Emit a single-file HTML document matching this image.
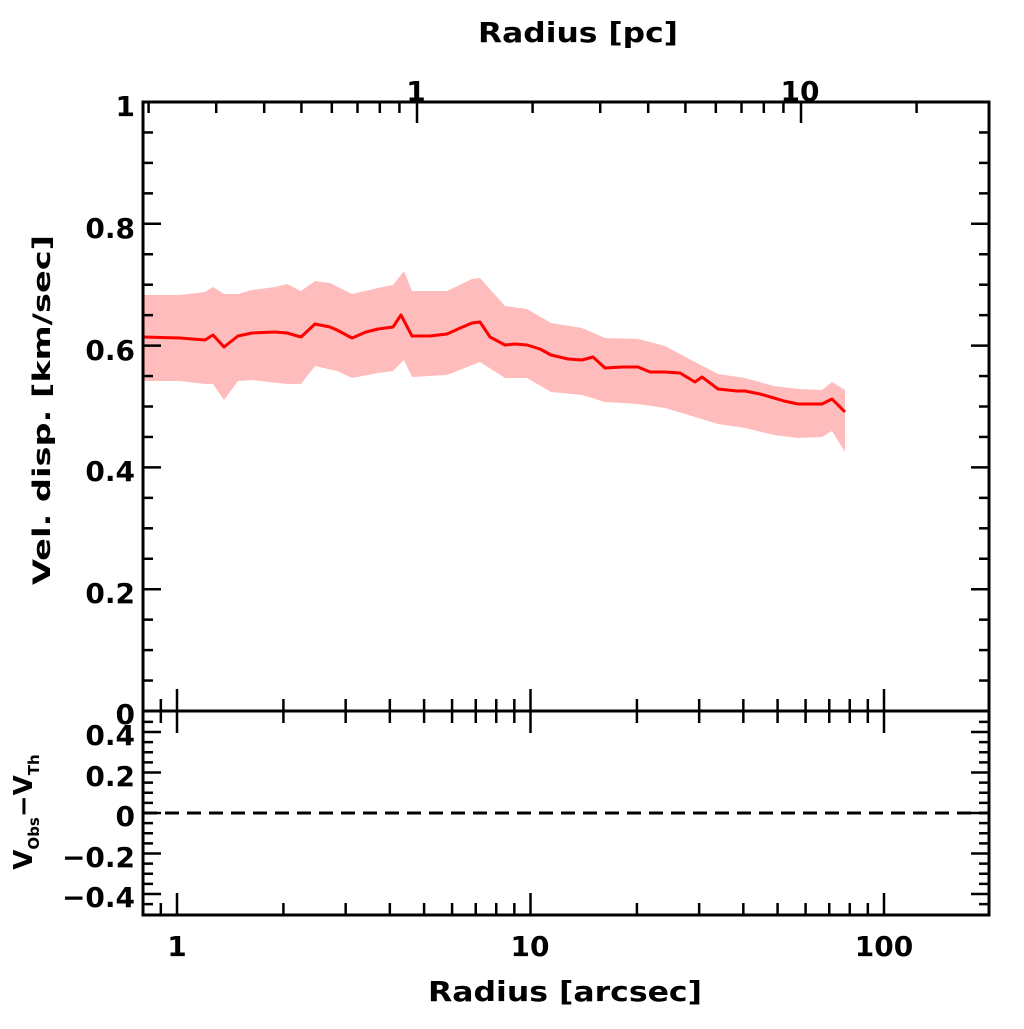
<!DOCTYPE html>
<html><head><meta charset="utf-8"><style>
body{margin:0;background:#fff}
svg text{font-family:"DejaVu Sans","Liberation Sans",sans-serif;font-weight:bold;fill:#000}
</style></head><body>
<svg id="s" width="1024" height="1024" xmlns="http://www.w3.org/2000/svg">
<polygon fill="#ffbcbc" points="143,295 180,295 205,292 213,287 224,294 238,294 252,290 275,287 287,284 301,291 315,281 330,283 352,294 378,288 393,285 404,271 412,291 447,291 472,279 480,278 505,306 527,309 551,323 582,328 605,338 638,339 665,346 695,362 718,374 745,378 774,386 798,389 822,390 832,382 845,390 845,452 832,431 822,437 798,438 774,435 745,428 718,424 695,417 665,408 638,404 605,402 582,395 551,392 527,378 505,378 480,362 447,375 412,377 404,360 393,371 378,373 352,378 337,371 315,366 301,384 287,384 252,380 238,381 224,400 213,384 205,384 180,381 143,381"/>
<polyline fill="none" stroke="#f00" stroke-width="3" stroke-linejoin="round" points="143,337 180,338 205,340 213,335 224,347 238,336 252,333 275,332 287,333 301,337 315,324 330,327 337,330 352,338 366,332 378,329 393,327 401,315 412,336 430,336 447,334 458,329 472,323 480,322 490,337 505,345 515,344 527,345 540,349 551,355 568,359 582,360 593,357 605,368 622,367 638,367 650,372 665,372 680,373 695,382 702,377 718,389 737,391 745,391 760,394 774,398 784,401 798,404 822,404 832,399 845,412"/>
<line x1="143" y1="813" x2="989" y2="813" stroke="#000" stroke-width="3" stroke-dasharray="14,8"/>
<g id="ax" stroke="#000" stroke-width="2.5" fill="none"></g>
<rect x="143" y="102" width="846" height="813" fill="none" stroke="#000" stroke-width="3"/>
<line x1="143" y1="711" x2="989" y2="711" stroke="#000" stroke-width="3"/>
<g font-size="28" text-anchor="end">
<text x="135" y="116">1</text><text x="135" y="238">0.8</text><text x="135" y="360">0.6</text>
<text x="135" y="481">0.4</text><text x="135" y="603">0.2</text><text x="135" y="724">0</text>
<text x="135" y="745">0.4</text><text x="135" y="786">0.2</text><text x="135" y="826">0</text>
<text x="135" y="867">−0.2</text><text x="135" y="907">−0.4</text>
</g>
<g font-size="28" text-anchor="middle">
<text x="177" y="956">1</text><text x="530" y="956">10</text><text x="884" y="956">100</text>
<text x="416" y="101">1</text><text x="800" y="101">10</text>
<text x="578" y="42" textLength="200" lengthAdjust="spacingAndGlyphs">Radius [pc]</text>
<text x="565" y="1001" textLength="274" lengthAdjust="spacingAndGlyphs">Radius [arcsec]</text>
<text transform="translate(50,410) rotate(-90)" font-size="24" textLength="350" lengthAdjust="spacingAndGlyphs">Vel. disp. [km/sec]</text>
<text transform="translate(32,812) rotate(-90)" font-size="26">V<tspan font-size="15" dy="7">Obs</tspan><tspan dy="-7">−V</tspan><tspan font-size="15" dy="7">Th</tspan></text>
</g>
</svg>
<script>
var g=document.getElementById('ax'),h='';
function L(a,b,c,d){h+='<line x1="'+a+'" y1="'+b+'" x2="'+c+'" y2="'+d+'"/>';}
var vs=[0.9,1,2,3,4,5,6,7,8,9,10,20,30,40,50,60,70,80,90,100];
vs.forEach(function(v){var x=177+353.5*Math.log10(v);var m=(v==1||v==10||v==100);var l=m?22:12;
L(x,915,x,915-l);L(x,711-l,x,711+l);});
[0.2,0.3,0.4,0.5,0.6,0.7,0.8,0.9,1,2,3,4,5,6,7,8,9,10,20].forEach(function(v){var x=417+384*Math.log10(v);if(x<145)return;var m=(v==1||v==10);var l=m?21:11;L(x,102,x,102+l);});
for(var i=1;i<20;i++){var y=711-i*0.05*609;var m=(i%4==0);var l=m?18:10;L(143,y,143+l,y);L(989,y,989-l,y);}
for(var i=-9;i<=9;i++){var y=813-i*0.05*202.5;var m=(i%4==0);var l=m?18:10;L(143,y,143+l,y);L(989,y,989-l,y);}
g.innerHTML=h;
</script>
</body></html>
